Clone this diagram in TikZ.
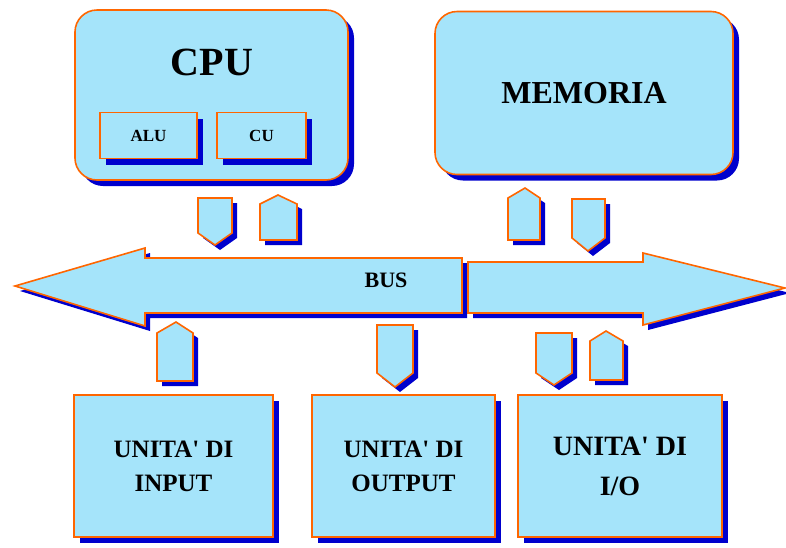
\documentclass[tikz,border=0pt]{standalone}
\usepackage{fontspec}
\setmainfont{Liberation Serif}
\usetikzlibrary{shadows}

\definecolor{boxfill}{RGB}{165,228,250}
\definecolor{boxline}{RGB}{255,102,0}
\definecolor{boxshade}{RGB}{0,0,205}

\tikzset{
  unitbox/.style={draw=boxline, fill=boxfill, line width=1.6pt, inner sep=0pt,
    font=\bfseries, align=center,
    drop shadow={shadow xshift=6pt, shadow yshift=-6pt, fill=boxshade, opacity=1}},
  blk/.style={draw=boxline, fill=boxfill, line width=1.6pt, line join=miter},
  blkshade/.style={fill=boxshade, shift={(5,5)}},
  lbl/.style={font=\bfseries, inner sep=0pt, align=center},
}

\begin{document}
\begin{tikzpicture}[x=1pt,y=1pt,yscale=-1,xscale=1]
\useasboundingbox (0,0) rectangle (786,547);

% CPU and its parts
\node [unitbox, rounded corners=22pt, minimum width=273pt, minimum height=170pt] (cpu) at (211.5,95) {};
\node [lbl, font=\bfseries\fontsize{40}{44}\selectfont] (cpulbl) at (212,62) {CPU};
\node [unitbox, minimum width=97pt, minimum height=46pt, font=\bfseries\fontsize{17}{19}\selectfont] (alu) at (148.5,135.5) {ALU};
\node [unitbox, minimum width=89pt, minimum height=46pt, font=\bfseries\fontsize{17}{19}\selectfont] (cu) at (261.5,135.5) {CU};

% memory
\node [unitbox, rounded corners=22pt, minimum width=298pt, minimum height=163pt, font=\bfseries\fontsize{32}{36}\selectfont] (mem) at (584,93) {MEMORIA};

% bus, two halves
\fill [blkshade] (462,258) -- (145,258) -- (145,248) -- (15,286) -- (145,326) -- (145,313) -- (462,313) -- cycle;
\draw [blk] (462,258) -- (145,258) -- (145,248) -- (15,286) -- (145,326) -- (145,313) -- (462,313) -- cycle;
\fill [blkshade] (468,262) -- (643,262) -- (643,253) -- (785,288) -- (643,325) -- (643,313) -- (468,313) -- cycle;
\draw [blk] (468,262) -- (643,262) -- (643,253) -- (785,288) -- (643,325) -- (643,313) -- (468,313) -- cycle;
\node [lbl, font=\bfseries\fontsize{22}{24}\selectfont] (buslbl) at (386,280) {BUS};

% small arrows, CPU side
\fill [blkshade] (198,198) -- (232,198) -- (232,233) -- (215,245) -- (198,233) -- cycle;
\draw [blk] (198,198) -- (232,198) -- (232,233) -- (215,245) -- (198,233) -- cycle;
\fill [blkshade] (260,240) -- (260,204) -- (278,195) -- (297,204) -- (297,240) -- cycle;
\draw [blk] (260,240) -- (260,204) -- (278,195) -- (297,204) -- (297,240) -- cycle;

% small arrows, memory side
\fill [blkshade] (508,240) -- (508,198) -- (525,188) -- (540,198) -- (540,240) -- cycle;
\draw [blk] (508,240) -- (508,198) -- (525,188) -- (540,198) -- (540,240) -- cycle;
\fill [blkshade] (572,199) -- (605,199) -- (605,238) -- (588,251) -- (572,238) -- cycle;
\draw [blk] (572,199) -- (605,199) -- (605,238) -- (588,251) -- (572,238) -- cycle;

% small arrows, units side
\fill [blkshade] (157,381) -- (157,333) -- (176,322) -- (193,333) -- (193,381) -- cycle;
\draw [blk] (157,381) -- (157,333) -- (176,322) -- (193,333) -- (193,381) -- cycle;
\fill [blkshade] (377,325) -- (413,325) -- (413,373) -- (395,387) -- (377,373) -- cycle;
\draw [blk] (377,325) -- (413,325) -- (413,373) -- (395,387) -- (377,373) -- cycle;
\fill [blkshade] (536,333) -- (572,333) -- (572,373) -- (554,385) -- (536,373) -- cycle;
\draw [blk] (536,333) -- (572,333) -- (572,373) -- (554,385) -- (536,373) -- cycle;
\fill [blkshade] (590,380) -- (590,341) -- (606,331) -- (623,341) -- (623,380) -- cycle;
\draw [blk] (590,380) -- (590,341) -- (606,331) -- (623,341) -- (623,380) -- cycle;

% units
\node [unitbox, minimum width=199pt, minimum height=142pt, font=\bfseries\fontsize{25}{34}\selectfont] (input) at (173.5,466) {UNITA\textquotesingle{} DI\\INPUT};
\node [unitbox, minimum width=183pt, minimum height=142pt, font=\bfseries\fontsize{25}{34}\selectfont] (output) at (403.5,466) {UNITA\textquotesingle{} DI\\OUTPUT};
\node [unitbox, minimum width=204pt, minimum height=142pt, font=\bfseries\fontsize{28}{40}\selectfont] (io) at (620,466) {UNITA\textquotesingle{} DI\\I/O};

\end{tikzpicture}
\end{document}
